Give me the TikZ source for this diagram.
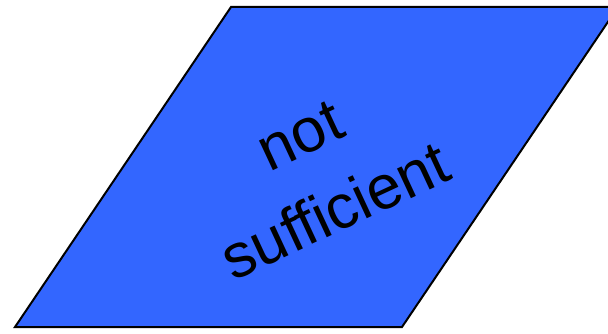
\documentclass[tikz,border=0pt]{standalone}
\usepackage{fontspec}
\setmainfont{Liberation Sans}
\definecolor{boxblue}{HTML}{3366FF}
\tikzset{
  shapebox/.style={fill=boxblue, draw=black, line width=2pt, line join=miter},
  boxtext/.style={align=center, font=\fontsize{62}{84}\selectfont, rotate=25, inner sep=0pt}
}
\begin{document}
\begin{tikzpicture}[x=1pt, y=1pt]
  \useasboundingbox (0,0) rectangle (608,333);
  \clip (0,0) rectangle (608,333);
  % corners of the slanted box
  \coordinate (bl) at (15,6);
  \coordinate (br) at (402,6);
  \coordinate (tr) at (618,326);
  \coordinate (tl) at (231,326);
  % box
  \draw[shapebox] (bl) -- (br) -- (tr) -- (tl) -- cycle;
  % label
  \node[boxtext] (label) at (318,159) {not\\sufficient};
\end{tikzpicture}
\end{document}
